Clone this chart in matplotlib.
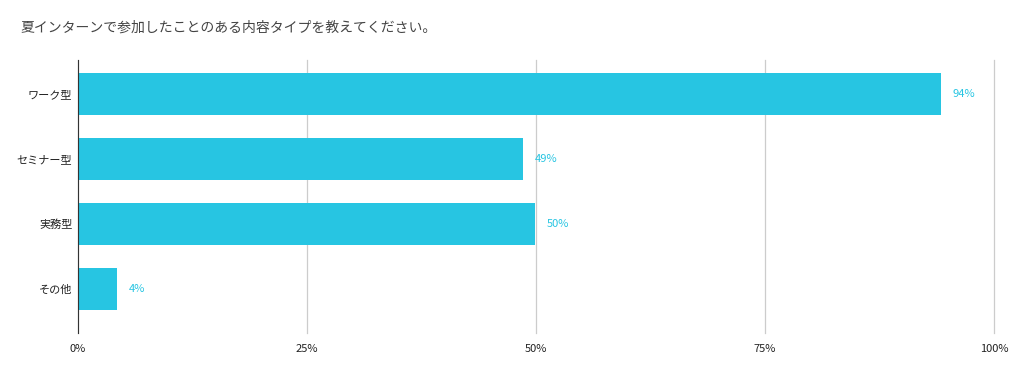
import matplotlib
matplotlib.use('Agg')
import matplotlib.pyplot as plt

plt.rcParams['font.family'] = ['Noto Sans CJK JP', 'DejaVu Sans']

# data
categories = ['ワーク型', 'セミナー型', '実務型', 'その他']
values = [94.2, 48.6, 49.9, 4.3]
labels = ['94%', '49%', '50%', '4%']
ticks = [0, 25, 50, 75, 100]
tick_labels = ['0%', '25%', '50%', '75%', '100%']

BAR = '#27c5e2'

fig = plt.figure(figsize=(10.13, 3.71), dpi=100)
ax = fig.add_axes([78 / 1013, 1 - 333 / 371, (994 - 78) / 1013, (333 - 60) / 371])

ypos = list(range(len(categories)))
ax.barh(ypos, values, height=0.65, color=BAR, zorder=3)
for y, v, lab in zip(ypos, values, labels):
    ax.text(v + 1.3, y, lab, va='center', ha='left', fontsize=8, color=BAR)

ax.set_xlim(0, 100)
ax.set_ylim(3 + 44 / 65, -34 / 65)
ax.set_yticks(ypos)
ax.set_yticklabels(categories, fontsize=8, color='#222222')
ax.set_xticks(ticks)
ax.set_xticklabels(tick_labels, fontsize=8, color='#222222')
ax.tick_params(length=0, pad=4)
ax.tick_params(axis='x', pad=8)
ax.grid(axis='x', color='#cccccc', linewidth=0.9, zorder=0)
for gl in ax.get_xgridlines():
    gl.set_clip_on(False)
for s in ['top', 'right', 'bottom']:
    ax.spines[s].set_visible(False)
ax.spines['left'].set_color('#333333')
ax.spines['left'].set_zorder(4)

fig.text(20 / 1013, 1 - 28 / 371, '夏インターンで参加したことのある内容タイプを教えてください。',
         fontsize=10, color='#444444', va='center', ha='left')

plt.savefig('out.png', dpi=100)
